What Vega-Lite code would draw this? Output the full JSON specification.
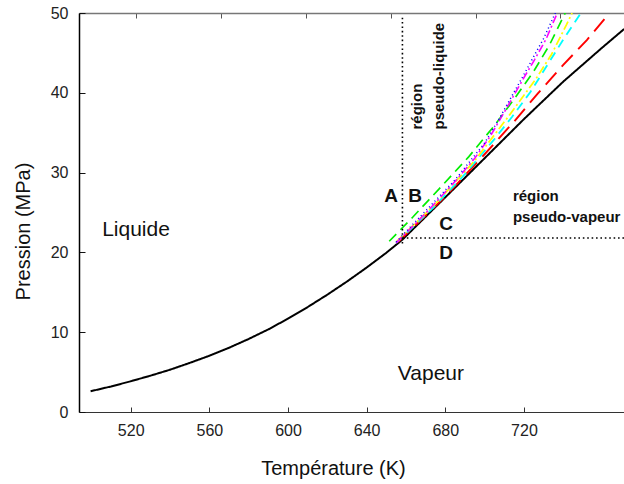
{
  "$schema": "https://vega.github.io/schema/vega-lite/v6.json",
  "width": 545,
  "height": 399,
  "autosize": {"type": "none"},
  "padding": {"left": 79, "top": 13, "right": 0, "bottom": 72},
  "background": "white",
  "config": {
    "font": "Liberation Sans",
    "view": {"stroke": null},
    "axis": {"grid": false}
  },
  "resolve": {"axis": {"x": "independent"}},
  "layer": [
    {
      "data": {"values": [
        {"s": "black", "i": 1, "T": 499.6, "P": 2.6},
        {"s": "black", "i": 2, "T": 510, "P": 3.2},
        {"s": "black", "i": 3, "T": 520, "P": 3.85},
        {"s": "black", "i": 4, "T": 530, "P": 4.55},
        {"s": "black", "i": 5, "T": 540, "P": 5.3},
        {"s": "black", "i": 6, "T": 550, "P": 6.15},
        {"s": "black", "i": 7, "T": 560, "P": 7.05},
        {"s": "black", "i": 8, "T": 570, "P": 8.05},
        {"s": "black", "i": 9, "T": 580, "P": 9.15},
        {"s": "black", "i": 10, "T": 590, "P": 10.35},
        {"s": "black", "i": 11, "T": 600, "P": 11.7},
        {"s": "black", "i": 12, "T": 610, "P": 13.15},
        {"s": "black", "i": 13, "T": 620, "P": 14.7},
        {"s": "black", "i": 14, "T": 630, "P": 16.35},
        {"s": "black", "i": 15, "T": 640, "P": 18.1},
        {"s": "black", "i": 16, "T": 650, "P": 19.95},
        {"s": "black", "i": 17, "T": 658.2, "P": 21.6},
        {"s": "black", "i": 18, "T": 680, "P": 26.9},
        {"s": "black", "i": 19, "T": 700, "P": 31.8},
        {"s": "black", "i": 20, "T": 720, "P": 36.7},
        {"s": "black", "i": 21, "T": 740, "P": 41.4},
        {"s": "black", "i": 22, "T": 760, "P": 45.7},
        {"s": "black", "i": 23, "T": 771, "P": 48.0},

        {"s": "red", "i": 1, "T": 656, "P": 21.3},
        {"s": "red", "i": 2, "T": 680, "P": 27.0},
        {"s": "red", "i": 3, "T": 700, "P": 32.3},
        {"s": "red", "i": 4, "T": 715, "P": 36.4},
        {"s": "red", "i": 5, "T": 727, "P": 39.9},
        {"s": "red", "i": 6, "T": 740, "P": 43.5},
        {"s": "red", "i": 7, "T": 752, "P": 46.6},
        {"s": "red", "i": 8, "T": 763.5, "P": 50.0},

        {"s": "cyan", "i": 1, "T": 655, "P": 21.2},
        {"s": "cyan", "i": 2, "T": 673, "P": 25.4},
        {"s": "cyan", "i": 3, "T": 690, "P": 29.8},
        {"s": "cyan", "i": 4, "T": 705, "P": 34.2},
        {"s": "cyan", "i": 5, "T": 714, "P": 37.0},
        {"s": "cyan", "i": 6, "T": 723.3, "P": 40.1},
        {"s": "cyan", "i": 7, "T": 731.2, "P": 43.2},
        {"s": "cyan", "i": 8, "T": 740.6, "P": 46.9},
        {"s": "cyan", "i": 9, "T": 749, "P": 50.0},

        {"s": "yellow", "i": 1, "T": 655, "P": 21.3},
        {"s": "yellow", "i": 2, "T": 675, "P": 26.1},
        {"s": "yellow", "i": 3, "T": 695, "P": 31.5},
        {"s": "yellow", "i": 4, "T": 712, "P": 37.0},
        {"s": "yellow", "i": 5, "T": 726, "P": 41.7},
        {"s": "yellow", "i": 6, "T": 734, "P": 44.8},
        {"s": "yellow", "i": 7, "T": 741.6, "P": 48.5},
        {"s": "yellow", "i": 8, "T": 744.5, "P": 50.0},

        {"s": "green", "i": 1, "T": 651.5, "P": 21.4},
        {"s": "green", "i": 2, "T": 663.4, "P": 24.4},
        {"s": "green", "i": 3, "T": 677, "P": 28.0},
        {"s": "green", "i": 4, "T": 692, "P": 32.0},
        {"s": "green", "i": 5, "T": 705, "P": 35.9},
        {"s": "green", "i": 6, "T": 715, "P": 39.2},
        {"s": "green", "i": 7, "T": 725, "P": 42.7},
        {"s": "green", "i": 8, "T": 733, "P": 46.0},
        {"s": "green", "i": 9, "T": 741, "P": 50.0},

        {"s": "magenta", "i": 1, "T": 655, "P": 21.2},
        {"s": "magenta", "i": 2, "T": 670, "P": 24.9},
        {"s": "magenta", "i": 3, "T": 685, "P": 28.9},
        {"s": "magenta", "i": 4, "T": 695, "P": 31.8},
        {"s": "magenta", "i": 5, "T": 703, "P": 34.6},
        {"s": "magenta", "i": 6, "T": 711, "P": 38.0},
        {"s": "magenta", "i": 7, "T": 719.3, "P": 41.6},
        {"s": "magenta", "i": 8, "T": 725.3, "P": 44.1},
        {"s": "magenta", "i": 9, "T": 731.2, "P": 46.7},
        {"s": "magenta", "i": 10, "T": 737, "P": 50.0},

        {"s": "blue", "i": 1, "T": 655, "P": 21.3},
        {"s": "blue", "i": 2, "T": 685, "P": 29.1},
        {"s": "blue", "i": 3, "T": 700, "P": 33.7},
        {"s": "blue", "i": 4, "T": 708, "P": 37.0},
        {"s": "blue", "i": 5, "T": 720, "P": 42.3},
        {"s": "blue", "i": 6, "T": 730, "P": 46.8},
        {"s": "blue", "i": 7, "T": 736, "P": 50.0}
      ]},
      "mark": {"type": "line", "clip": true, "strokeCap": "butt"},
      "encoding": {
        "x": {
          "field": "T", "type": "quantitative",
          "scale": {"domain": [493.7, 770.9], "nice": false, "zero": false},
          "axis": {
            "orient": "bottom",
            "title": "Température (K)",
            "values": [520, 560, 600, 640, 680, 720],
            "tickSize": -5,
            "tickColor": "#333",
            "domainColor": "#333",
            "labelPadding": 15,
            "labelFontSize": 16,
            "labelColor": "#222",
            "titleFontSize": 20,
            "titleFontWeight": "normal",
            "titleColor": "#111",
            "titleX": 254,
            "titleY": 56,
            "titleBaseline": "middle",
            "titleAlign": "center"
          }
        },
        "y": {
          "field": "P", "type": "quantitative",
          "scale": {"domain": [0, 50], "nice": false},
          "axis": {
            "title": "Pression (MPa)",
            "values": [0, 10, 20, 30, 40, 50],
            "tickSize": -6,
            "tickColor": "#111",
            "domainColor": "#000",
            "domainWidth": 1.5,
            "labelPadding": 17,
            "labelFontSize": 16,
            "labelColor": "#222",
            "titleFontSize": 20,
            "titleFontWeight": "normal",
            "titleColor": "#111",
            "titleX": -56,
            "titleY": 218,
            "titleAngle": 270,
            "titleBaseline": "middle",
            "titleAlign": "center"
          }
        },
        "color": {
          "field": "s", "type": "nominal", "legend": null,
          "scale": {
            "domain": ["blue", "magenta", "green", "yellow", "cyan", "red", "black"],
            "range": ["#0000ff", "#ff00ff", "#00ee00", "#ffff00", "#00ffff", "#ff0000", "#000000"]
          }
        },
        "strokeDash": {
          "field": "s", "type": "nominal", "legend": null,
          "scale": {
            "domain": ["blue", "magenta", "green", "yellow", "cyan", "red", "black"],
            "range": [[1, 3], [8, 3, 2, 3], [10, 6], [9, 3, 2, 3], [9, 6], [16, 8], [1, 0]]
          }
        },
        "strokeWidth": {
          "field": "s", "type": "nominal", "legend": null,
          "scale": {
            "domain": ["blue", "magenta", "green", "yellow", "cyan", "red", "black"],
            "range": [1.5, 2, 2.2, 2.2, 2.2, 2.2, 2.6]
          }
        },
        "detail": {"field": "s"},
        "order": {"field": "i", "type": "quantitative"}
      }
    },
    {
      "data": {"values": [{"T": 658.2, "P": 21.1, "P2": 49.4}]},
      "mark": {"type": "rule", "color": "#000", "strokeWidth": 1.6, "strokeDash": [1.6, 2.8]},
      "encoding": {
        "x": {
          "field": "T", "type": "quantitative",
          "axis": {
            "orient": "top",
            "title": null,
            "labels": false,
            "values": [522.5, 565.7, 609.1, 652.3, 695.6, 738.6],
            "tickSize": -5,
            "tickColor": "#555",
            "domainColor": "#777",
            "domainWidth": 1.5
          }
        },
        "y": {"field": "P", "type": "quantitative"},
        "y2": {"field": "P2"}
      }
    },
    {
      "data": {"values": [{"T1": 658.2, "T2": 771, "P": 21.8}]},
      "mark": {"type": "rule", "color": "#000", "strokeWidth": 1.6, "strokeDash": [1.6, 2.8]},
      "encoding": {
        "x": {"field": "T1", "type": "quantitative", "axis": null},
        "x2": {"field": "T2"},
        "y": {"field": "P", "type": "quantitative"}
      }
    },
    {
      "data": {"values": [
        {"label": "Liquide", "T": 522.7, "P": 22.85},
        {"label": "Vapeur", "T": 672.7, "P": 4.8}
      ]},
      "mark": {"type": "text", "fontSize": 21, "color": "#111", "align": "center", "baseline": "middle"},
      "encoding": {
        "x": {"field": "T", "type": "quantitative", "axis": null},
        "y": {"field": "P", "type": "quantitative"},
        "text": {"field": "label"}
      }
    },
    {
      "data": {"values": [
        {"label": "A", "T": 652.4, "P": 27.1},
        {"label": "B", "T": 664.6, "P": 27.1},
        {"label": "C", "T": 680.4, "P": 23.5},
        {"label": "D", "T": 680.4, "P": 19.97}
      ]},
      "mark": {"type": "text", "fontSize": 19, "fontWeight": "bold", "color": "#111", "align": "center", "baseline": "middle"},
      "encoding": {
        "x": {"field": "T", "type": "quantitative", "axis": null},
        "y": {"field": "P", "type": "quantitative"},
        "text": {"field": "label"}
      }
    },
    {
      "data": {"values": [
        {"label": "région", "T": 714.4, "P": 27.1},
        {"label": "pseudo-vapeur", "T": 714.4, "P": 24.4}
      ]},
      "mark": {"type": "text", "fontSize": 15, "fontWeight": "bold", "color": "#111", "align": "left", "baseline": "middle"},
      "encoding": {
        "x": {"field": "T", "type": "quantitative", "axis": null},
        "y": {"field": "P", "type": "quantitative"},
        "text": {"field": "label"}
      }
    },
    {
      "data": {"values": [
        {"label": "région", "T": 665.6, "P": 35.4},
        {"label": "pseudo-liquide", "T": 676.8, "P": 35.4}
      ]},
      "mark": {"type": "text", "fontSize": 15, "fontWeight": "bold", "color": "#111", "align": "left", "baseline": "middle", "angle": 270},
      "encoding": {
        "x": {"field": "T", "type": "quantitative", "axis": null},
        "y": {"field": "P", "type": "quantitative"},
        "text": {"field": "label"}
      }
    }
  ]
}
